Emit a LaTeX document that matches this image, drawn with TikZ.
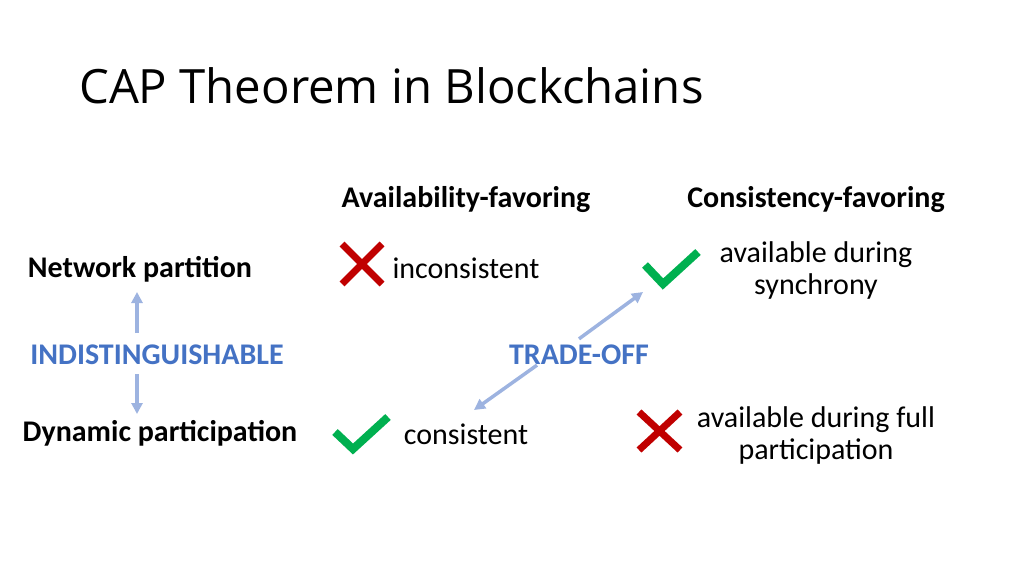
\documentclass[tikz,border=0pt]{standalone}
\usepackage{fontspec}
\setmainfont{Carlito}
\newfontfamily\titlefont{Open Sans}
\usepackage{xcolor}
\usetikzlibrary{arrows.meta,calc}

\definecolor{crossred}{HTML}{C00000}
\definecolor{checkgreen}{HTML}{00B050}
\definecolor{tagblue}{HTML}{4472C4}
\definecolor{arrowblue}{HTML}{9DB3E0}

\begin{document}
\begin{tikzpicture}[x=1pt, y=-1pt,
    every node/.style={font=\fontsize{30}{32}\selectfont, inner sep=0pt},
    head/.style={font=\fontsize{30}{32}\selectfont\bfseries},
    tag/.style={font=\fontsize{30}{32}\selectfont\bfseries, text=tagblue},
    cell/.style={align=center},
    crossmark/.style={draw=crossred, line width=7pt},
    checkmark/.style={draw=checkgreen, line width=8pt},
    arr/.style={draw=arrowblue, line width=3.5pt, -{Triangle[length=11pt, width=11pt]}}]
    \useasboundingbox (0,0) rectangle (1024,575);

    \node (title) [anchor=base west, font=\titlefont\fontsize{47.3}{52}\selectfont] at (79,103) {CAP Theorem in Blockchains};

    % column heads
    \node (avail) [head] at (466,200) {Availability-favoring};
    \node (consis) [head] at (816,200) {Consistency-favoring};

    % row heads
    \node (netpart) [head] at (140,269) {Network partition};
    \node (indist) [tag] at (157,355) {INDISTINGUISHABLE};
    \node (dynpart) [head] at (160,433) {Dynamic participation};
    \node (tradeoff) [tag] at (579,355) {TRADE-OFF};

    % cells
    \node (incons) [cell] at (466,268) {inconsistent};
    \node (syncav) [cell] at (816,270) {available during\\synchrony};
    \node (cons) [cell] at (466,434) {consistent};
    \node (fullav) [cell] at (816,435) {available during full\\participation};

    % marks
    \draw[crossmark] (342,244) -- (382,284) (342,284) -- (382,244);
    \draw[checkmark] (645,265) -- (663,284) -- (698,252);
    \draw[checkmark] (335,432) -- (353,449) -- (388,417);
    \draw[crossmark] (639,412) -- (680,450) (639,450) -- (680,412);

    % arrows
    \coordinate (uptip) at (137,292);
    \coordinate (downtip) at (137,414);
    \coordinate (synctip) at (643,292);
    \coordinate (constip) at (474,410);
    \draw[arr] (137,333) -- (uptip);
    \draw[arr] (137,374) -- (downtip);
    \draw[arr] ($(tradeoff.north)+(0,-6)$) -- (synctip);
    \draw[arr] ($(tradeoff.south)+(-42,0)$) -- (constip);
\end{tikzpicture}
\end{document}
